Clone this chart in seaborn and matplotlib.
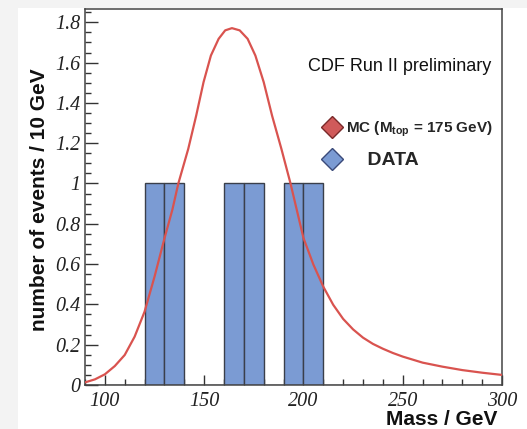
import numpy as np
import pandas as pd
import matplotlib
matplotlib.use("Agg")
import matplotlib.pyplot as plt
from matplotlib.patches import Rectangle
from matplotlib.lines import Line2D
from matplotlib.ticker import MultipleLocator
import seaborn as sns

# Reconstructed top-quark mass: observed events per 10 GeV bin
data_bin_low = [120, 130, 160, 170, 190, 200]
data_counts = [1, 1, 1, 1, 1, 1]
bin_width = 10

# Monte Carlo template for M_top = 175 GeV (events / 10 GeV)
mc_mass = [90, 95, 100, 105, 110, 115, 120, 125, 130, 134, 137, 142, 146,
           149.7, 153.4, 157.3, 160.6, 164, 167.9, 171.9, 175.8, 180, 184.2,
           188.9, 193.5, 200, 205, 210, 215, 220, 225, 230, 235, 240, 245,
           250, 260, 270, 280, 290, 300]
mc_events = [0.013, 0.028, 0.053, 0.094, 0.149, 0.24, 0.364, 0.537, 0.727,
             0.87, 1.0, 1.172, 1.337, 1.503, 1.635, 1.718, 1.76, 1.771, 1.76,
             1.718, 1.635, 1.503, 1.337, 1.172, 1.0, 0.73, 0.598, 0.488,
             0.398, 0.328, 0.276, 0.235, 0.204, 0.18, 0.159, 0.141, 0.111,
             0.091, 0.074, 0.061, 0.05]

x_range = (90, 300)
y_range = (0, 1.866)

sns.set_theme(style="white")
plt.rcParams["font.family"] = ["Liberation Sans", "DejaVu Sans"]
plt.rcParams["mathtext.fontset"] = "custom"
plt.rcParams["mathtext.rm"] = "Liberation Sans"
plt.rcParams["mathtext.bf"] = "Liberation Sans:bold"

W, H = 527, 429
fig = plt.figure(figsize=(W / 100, H / 100), dpi=100, facecolor="white")

# light grey frame strips around the canvas
grey = "#f3f3f3"
fig.patches.append(Rectangle((0, 0), 18 / W, 1, transform=fig.transFigure,
                             facecolor=grey, edgecolor="none", zorder=-10))
fig.patches.append(Rectangle((0, 1 - 8 / H), 1, 8 / H, transform=fig.transFigure,
                             facecolor=grey, edgecolor="none", zorder=-10))

ax = fig.add_axes([85 / W, (H - 385) / H, 417 / W, 376 / H])
ax.set_facecolor("white")

df_data = pd.DataFrame({
    "mass": [lo + bin_width / 2 for lo in data_bin_low],
    "count": data_counts,
})
sns.histplot(data=df_data, x="mass", weights="count", binwidth=bin_width,
             binrange=x_range, ax=ax,
             color="#7b9bd3", alpha=1.0, edgecolor="#3a3f4a", linewidth=1.0,
             zorder=2)

df_mc = pd.DataFrame({"mass": mc_mass, "events": mc_events})
sns.lineplot(data=df_mc, x="mass", y="events", ax=ax, color="#d9534f",
             linewidth=1.6, zorder=3)

ax.set_xlim(*x_range)
ax.set_ylim(*y_range)

ax.xaxis.set_major_locator(MultipleLocator(50))
ax.xaxis.set_minor_locator(MultipleLocator(10))
ax.yaxis.set_major_locator(MultipleLocator(0.2))
ax.yaxis.set_minor_locator(MultipleLocator(0.05))
ax.yaxis.set_major_formatter(plt.FuncFormatter(lambda v, p: f"{v:g}"))

ax.tick_params(axis="both", which="both", direction="in", color="#333333",
               width=1.0, top=False, right=False, left=True, bottom=True)
ax.tick_params(axis="y", which="major", length=9, pad=3)
ax.tick_params(axis="y", which="minor", length=4.5)
ax.tick_params(axis="x", which="major", length=7.5, pad=5)
ax.tick_params(axis="x", which="minor", length=4.5)
for lab in ax.get_xticklabels() + ax.get_yticklabels():
    lab.set_fontfamily("Liberation Serif")
    lab.set_fontstyle("italic")
    lab.set_fontsize(14.5)
    lab.set_color("#222222")

for side, sp in ax.spines.items():
    sp.set_visible(True)
    sp.set_color("#444444")
    sp.set_linewidth(1.1)

ax.set_xlabel("Mass / GeV", fontsize=15, fontweight="bold", color="#111111",
              ha="right", va="top")
ax.xaxis.set_label_coords((497 - 85) / 417, -(410 - 385) / 376)
ax.set_ylabel("number of events / 10 GeV", fontsize=15, fontweight="bold",
              color="#111111", ha="center", va="center")
ax.yaxis.set_label_coords((40 - 85) / 417, (385 - 200) / 376)

ax.text((491 - 85) / 417, (385 - 66) / 376, "CDF Run II preliminary",
        transform=ax.transAxes, ha="right", va="center", fontsize=13,
        color="#111111")

handles = [
    Line2D([], [], linestyle="none", marker="D", markersize=11.5,
           markerfacecolor="#d05a5a", markeredgecolor="#7a2a2a",
           markeredgewidth=1.0),
    Line2D([], [], linestyle="none", marker="D", markersize=11.5,
           markerfacecolor="#7b9bd3", markeredgecolor="#3a4a7a",
           markeredgewidth=1.0),
]
labels = [r"MC (M$_{\mathbf{top}}$ = 175 GeV)", "    DATA"]
leg = ax.legend(handles, labels, loc="upper left",
                bbox_to_anchor=((323 - 85) / 417, (385 - 119) / 376),
                frameon=False, handlelength=1.2, handletextpad=0.3,
                labelspacing=0.85, borderpad=0, borderaxespad=0,
                prop=dict(family="Liberation Sans", weight="bold", size=11))
leg.get_texts()[1].set_fontsize(14)

fig.savefig("out.png", dpi=100, facecolor=fig.get_facecolor())
